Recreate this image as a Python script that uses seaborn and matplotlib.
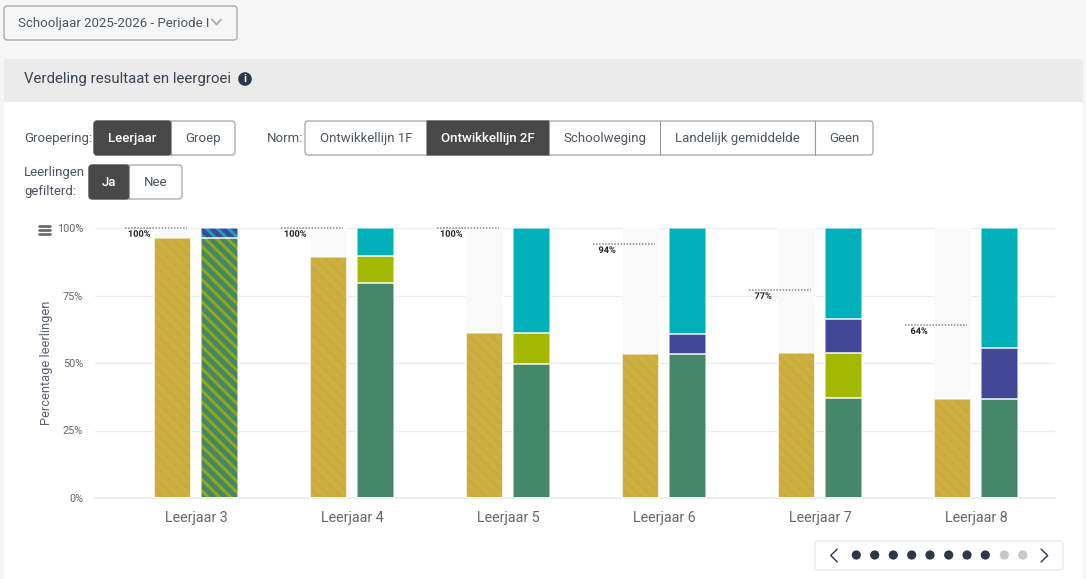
import matplotlib
matplotlib.use('Agg')
import matplotlib.pyplot as plt
import matplotlib.patheffects as pe
import seaborn as sns
from matplotlib.patches import FancyBboxPatch, Rectangle, Circle

# data
leerjaren = ['Leerjaar 3', 'Leerjaar 4', 'Leerjaar 5', 'Leerjaar 6', 'Leerjaar 7', 'Leerjaar 8']
norm = [100, 100, 100, 94, 77, 64]
resultaat = [96.3, 89.3, 61.2, 53.2, 53.7, 36.7]
groen = [96.3, 79.5, 49.8, 53.4, 37.2, 36.8]
olijf = [0, 10.0, 11.4, 0, 16.5, 0]
blauw = [3.7, 0, 0, 7.2, 12.6, 18.7]
teal = [0, 10.5, 38.8, 39.4, 33.7, 44.5]
y_ticks = [0, 25, 50, 75, 100]

FONT = 'Roboto'
DARK = '#484848'
LINE = '#999999'
TEXT = '#4d5560'
W, H = 1086, 579

sns.set_theme(style='white')
plt.rcParams['font.family'] = [FONT, 'DejaVu Sans']
plt.rcParams['hatch.linewidth'] = 2.2

fig = plt.figure(figsize=(W / 100, H / 100), dpi=100, facecolor='#f6f6f6')

# pagina-elementen in pixels
ui = fig.add_axes([0, 0, 1, 1], zorder=0)
ui.set_xlim(0, W)
ui.set_ylim(H, 0)
ui.axis('off')


def box(x0, y0, x1, y1, fc='white', ec=LINE, r=3, lw=0.8, z=1):
    ui.add_patch(FancyBboxPatch((x0 + r, y0 + r), x1 - x0 - 2 * r, y1 - y0 - 2 * r,
                                boxstyle=f'round,pad={r},rounding_size={r}',
                                fc=fc, ec=ec, lw=lw, zorder=z))


def label(x, y, s, size=9.5, color=TEXT, ha='left', **kw):
    ui.text(x, y, s, fontsize=size, color=color, ha=ha, va='center', **kw)


def button_group(edges, names, active, y0, y1):
    box(edges[0], y0, edges[-1], y1)
    for i, name in enumerate(names):
        x0, x1 = edges[i], edges[i + 1]
        if i == active:
            box(x0, y0, x1, y1, fc=DARK, ec=DARK, r=3 if i == 0 else 0.1, z=2)
        elif i > 0:
            ui.plot([x0, x0], [y0, y1], color=LINE, lw=0.8, zorder=2)
        label((x0 + x1) / 2, (y0 + y1) / 2 + 0.5, name, ha='center', zorder=3,
              color='white' if i == active else TEXT, fontweight='medium' if i == active else 'normal')


# dropdown
box(4, 6, 237, 40, fc='#f6f6f6')
label(18, 23, 'Schooljaar 2025-2026 - Periode I')
ui.plot([212, 216.5, 221], [19.5, 24.5, 19.5], color='#aaaaaa', lw=1.3, zorder=3)

# kaart
ui.add_patch(Rectangle((4, 100), 1079, 482, fc='white', ec='none', zorder=0.5))
ui.add_patch(FancyBboxPatch((7, 62), 1073, 37, boxstyle='round,pad=3,rounding_size=3',
                            fc='#ebebeb', ec='none', zorder=0.6))
ui.add_patch(Rectangle((4, 92), 1079, 10, fc='#ebebeb', ec='none', zorder=0.6))
label(24, 79.5, 'Verdeling resultaat en leergroei', size=10.85, color='#3c4450')
ui.add_patch(Circle((245, 79), 6.8, fc='#2d3748', ec='none', zorder=2))
ui.text(245, 79, 'i', fontsize=8, color='white', ha='center', va='center', fontweight='bold', zorder=3)

# knoppen
label(24, 138.5, 'Groepering:')
button_group([94, 171, 235], ['Leerjaar', 'Groep'], 0, 121, 155)
label(267, 138.5, 'Norm:')
button_group([305, 427, 549, 660, 815, 873],
             ['Ontwikkellijn 1F', 'Ontwikkellijn 2F', 'Schoolweging', 'Landelijk gemiddelde', 'Geen'],
             1, 121, 155)
label(24, 172.5, 'Leerlingen')
label(24, 191.5, 'gefilterd:')
button_group([89, 129, 182], ['Ja', 'Nee'], 0, 165, 199)

# hamburger
for yy in [225.5, 229.5, 233.5]:
    ui.plot([38.5, 50], [yy, yy], color='#666666', lw=1.9, solid_capstyle='round', zorder=3)

# pager
box(815, 541, 1063, 570, ec='#e6e6e6', r=3)
for n, xx in enumerate([856.3, 874.7, 893.3, 911.7, 930, 948.7, 967, 985.3, 1004.3, 1022.7]):
    ui.add_patch(Circle((xx, 555), 4.6, fc='#2d3748' if n < 8 else '#c8c8c8', ec='none', zorder=3))
ui.plot([837.3, 830.7, 837.3], [549, 555.5, 562], color='#2d3748', lw=1.0, zorder=3)
ui.plot([1041, 1047.7, 1041], [549, 555.5, 562], color='#2d3748', lw=1.0, zorder=3)

# grafiek
ax = fig.add_axes([95 / W, 1 - 498 / H, 960 / W, 270 / H], zorder=1)
ax.patch.set_alpha(0)

zeros = [0] * 6


def segment(values, bottom, side, color, hatch=None, hatch_color=None):
    """één laag van een gestapelde staaf, links of rechts binnen de groep"""
    y = list(values) + zeros if side == 'links' else zeros + list(values)
    kw = dict(x=leerjaren * 2, y=y, hue=['links'] * 6 + ['rechts'] * 6, hue_order=['links', 'rechts'],
              dodge=True, width=0.6, gap=0.21, bottom=bottom, legend=False, ax=ax)
    before = len(ax.patches)
    sns.barplot(palette={'links': color, 'rechts': color}, saturation=1, linewidth=0, zorder=2, **kw)
    if hatch:
        for p in ax.patches[before:]:
            p.set_hatch(hatch)
            p.set_edgecolor(hatch_color)
            p.set_linewidth(0)
    sns.barplot(palette={'links': 'white', 'rechts': 'white'}, fill=False, linewidth=1.1, zorder=3, alpha=0.65, **kw)
    for p in list(ax.patches[before:]):
        if p.get_height() == 0:
            p.remove()


def split(vals, keep):
    # gearceerd alleen waar de staaf in Leerjaar 3 staat
    return [v if i in keep else 0 for i, v in enumerate(vals)]


segment([100] * 6, zeros, 'links', '#f9f9f9')
segment(resultaat, zeros, 'links', '#cdb03f', '\\\\\\', '#c9ab3e')

o_bot = groen
b_bot = [g + o for g, o in zip(groen, olijf)]
t_bot = [b + u for b, u in zip(b_bot, blauw)]

segment(split(groen, {0}), zeros, 'rechts', '#44866a', '\\\\\\', '#8fa815')
segment(split(groen, {1, 2, 3, 4, 5}), zeros, 'rechts', '#44866a')
segment(olijf, o_bot, 'rechts', '#a3b800')
segment(split(blauw, {0}), b_bot, 'rechts', '#424896', '\\\\\\', '#17a2b8')
segment(split(blauw, {1, 2, 3, 4, 5}), b_bot, 'rechts', '#424896')
segment(teal, t_bot, 'rechts', '#00b0bb')

# normlijn met label
for i, n in enumerate(norm):
    ax.hlines(n, i - 0.455, i - 0.058, colors='#888888', linewidth=1.1,
              linestyles=(0, (1, 1)), zorder=4, clip_on=False)
    ax.annotate(f'{n}%', (i - 0.365, n), xytext=(0, -4.5), textcoords='offset points',
                ha='center', va='center', fontsize=6.6, fontweight='bold', color='#222222', zorder=5,
                path_effects=[pe.withStroke(linewidth=1, foreground='white')])

ax.set_xlim(-0.647, 5.506)
ax.set_ylim(0, 100)
ax.set_yticks(y_ticks)
ax.set_yticklabels([f'{t}%' for t in y_ticks], fontsize=7.8, color='#666666')
ax.tick_params(axis='y', length=0, pad=8.5)
ax.tick_params(axis='x', length=0, pad=9.5, labelsize=10.3, labelcolor='#666666')
ax.grid(axis='y', color='#ebebeb', lw=1, zorder=0)
ax.set_axisbelow(True)
sns.despine(ax=ax, left=True, top=True, right=True)
ax.spines['bottom'].set_color('#ebebeb')
ax.set_ylabel('Percentage leerlingen', fontsize=9.3, color='#5a6270', labelpad=3)
ax.set_xlabel('')

fig.savefig('out.png', dpi=100, facecolor=fig.get_facecolor())
